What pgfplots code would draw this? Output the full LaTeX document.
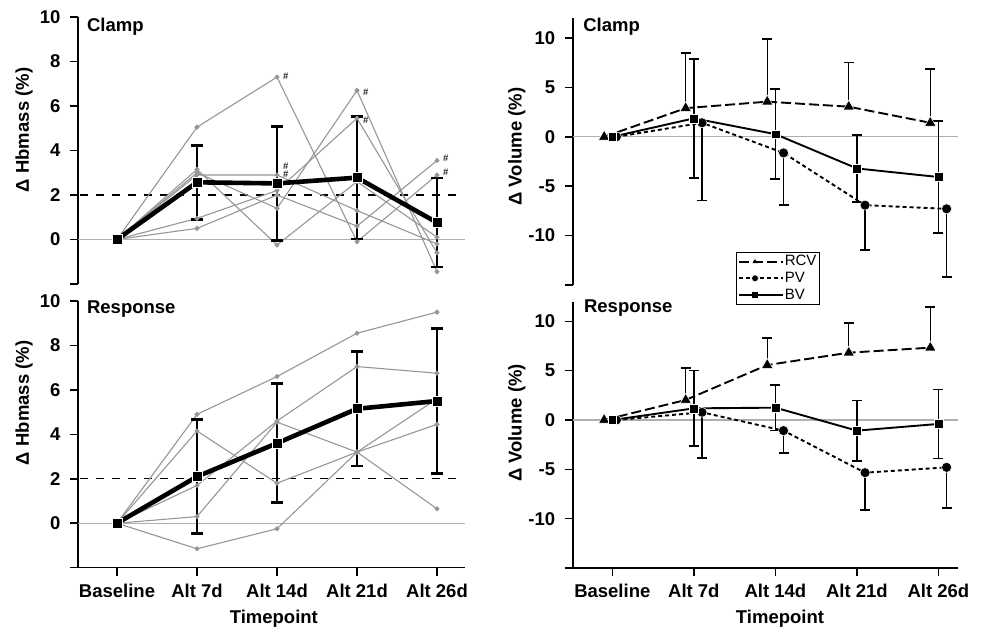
\documentclass[border=0pt]{standalone}
\usepackage{pgfplots}
\pgfplotsset{compat=1.18}
\usepackage{fontspec}
\setmainfont{Liberation Sans}
\definecolor{indiv}{RGB}{150,150,150}
\definecolor{zline}{RGB}{175,175,175}
\pgfplotsset{
  base/.style={
    scale only axis, clip=false,
    axis y line*=left,
    tick align=outside, major tick length=8pt,
    every tick/.style={black, line width=1.6pt},
    axis line style={line width=1.6pt, black},
    tick label style={font=\bfseries\fontsize{18.5}{20}\selectfont},
    label style={font=\bfseries\fontsize{18.5}{20}\selectfont},
    xtick={0,1,2,3,4},
    xticklabels={Baseline, Alt 7d, Alt 14d, Alt 21d, Alt 26d},
    x tick label style={yshift=-5pt},
    y tick label style={xshift=-6pt},
  },
  leftp/.style={base, width=387pt, xmin=-0.4875, xmax=4.35, ymin=-2, ymax=10,
    ytick={-2,0,2,4,6,8,10}, yticklabels={,0,2,4,6,8,10},
    ylabel={Δ Hbmass (\%)}},
  rightp/.style={base, width=385.3pt, xmin=-0.486, xmax=4.24, ymin=-15, ymax=12,
    ytick={-15,-10,-5,0,5,10}, yticklabels={,-10,-5,0,5,10},
    ylabel={Δ Volume (\%)}},
  ind/.style={indiv, line width=1.1pt, mark=*, mark size=1.9pt, mark options={fill=indiv, draw=indiv}, forget plot},
  meanln/.style={black, line width=4.6pt, mark=square*, mark size=5pt, mark options={fill=black, draw=white, line width=0.7pt}, forget plot},
  meaneb/.style={only marks, mark=none, forget plot,
    error bars/.cd, y dir=both, y explicit,
    error bar style={line width=2.2pt, black},
    error mark options={rotate=90, mark size=6pt, line width=2.8pt, black}},
  veb/.style={only marks, mark=none, forget plot,
    error bars/.cd, y dir=#1, y explicit,
    error bar style={line width=1.4pt, black, solid},
    error mark options={rotate=90, mark size=5pt, line width=1.7pt, black, solid}},
  rcv/.style={black, line width=1.9pt, dash pattern=on 10pt off 4pt, mark=triangle*, mark size=6.5pt, mark options={solid, fill=black, draw=white, line width=0.5pt}},
  pv/.style={black, line width=1.9pt, dash pattern=on 4pt off 3pt, mark=*, mark size=5pt, mark options={solid, fill=black, draw=white, line width=0.5pt}},
  bv/.style={black, line width=1.9pt, mark=square*, mark size=4.4pt, mark options={solid, fill=black, draw=white, line width=0.5pt}},
}
\begin{document}
\begin{tikzpicture}[x=1pt,y=1pt]
\useasboundingbox (0,0) rectangle (983,628);

% ---------- top left: Clamp Hbmass ----------
\begin{axis}[leftp, height=267pt, at={(78pt,344pt)}, anchor=south west,
  axis x line=none,
  ylabel style={at={(axis description cs:-0.1395,0.577)}, anchor=center}]
\addplot[zline, line width=1.2pt, forget plot] coordinates {(-0.4875,0) (4.35,0)};
\addplot[black, line width=1.3pt, dash pattern=on 8pt off 8pt, forget plot] coordinates {(-0.46,2) (4.25,2)};
\addplot[ind] coordinates {(0,0) (1,5.05) (2,7.3) (3,-0.1) (4,2.9)};
\addplot[ind] coordinates {(0,0) (1,3.0) (2,1.4) (3,6.7) (4,-1.45)};
\addplot[ind] coordinates {(0,0) (1,0.95) (2,2.2) (3,5.45) (4,-0.6)};
\addplot[ind] coordinates {(0,0) (1,3.15) (2,-0.25) (3,2.6) (4,0.1)};
\addplot[ind] coordinates {(0,0) (1,0.5) (2,2.0) (3,0.6) (4,3.55)};
\addplot[ind] coordinates {(0,0) (1,2.9) (2,2.9) (3,1.3) (4,-0.2)};
\addplot[meaneb] coordinates {(1,2.57) +- (0,1.66) (2,2.52) +- (0,2.55) (3,2.78) +- (0,2.76) (4,0.76) +- (0,2.0)};
\addplot[meanln] coordinates {(0,0) (1,2.57) (2,2.52) (3,2.78) (4,0.76)};
\begin{scope}[every node/.style={font=\bfseries\fontsize{9.5}{9.5}\selectfont, inner sep=0pt, text=black!85}]
\node at (axis cs:2.11,7.35) {\#};
\node at (axis cs:2.11,3.27) {\#};
\node at (axis cs:2.11,2.91) {\#};
\node at (axis cs:3.11,6.62) {\#};
\node at (axis cs:3.11,5.34) {\#};
\node at (axis cs:4.11,3.63) {\#};
\node at (axis cs:4.11,3.02) {\#};
\end{scope}
\node[anchor=west, font=\bfseries\fontsize{18.5}{20}\selectfont, inner sep=0pt] at (rel axis cs:0.023,0.963) {Clamp};
\end{axis}

% ---------- bottom left: Response Hbmass ----------
\begin{axis}[leftp, height=266.7pt, at={(78pt,60.3pt)}, anchor=south west,
  axis x line*=bottom, xlabel={Timepoint},
  xlabel style={at={(axis description cs:0.506,0)}, anchor=center, yshift=-51pt},
  ylabel style={at={(axis description cs:-0.1395,0.618)}, anchor=center}]
\addplot[zline, line width=1.2pt, forget plot] coordinates {(-0.4875,0) (4.35,0)};
\addplot[black, line width=1.3pt, dash pattern=on 8pt off 8pt, forget plot] coordinates {(-0.46,2) (4.25,2)};
\addplot[ind] coordinates {(0,0) (1,4.9) (2,6.6) (3,8.55) (4,9.5)};
\addplot[ind] coordinates {(0,0) (1,4.15) (2,1.8) (3,3.2) (4,4.45)};
\addplot[ind] coordinates {(0,0) (1,1.7) (2,4.6) (3,7.05) (4,6.75)};
\addplot[ind] coordinates {(0,0) (1,0.3) (2,4.55) (3,3.2) (4,0.65)};
\addplot[ind] coordinates {(0,0) (1,-1.15) (2,-0.25) (3,3.2) (4,5.6)};
\addplot[meaneb] coordinates {(1,2.1) +- (0,2.57) (2,3.6) +- (0,2.68) (3,5.15) +- (0,2.57) (4,5.5) +- (0,3.27)};
\addplot[meanln] coordinates {(0,0) (1,2.1) (2,3.6) (3,5.15) (4,5.5)};
\node[anchor=west, font=\bfseries\fontsize{18.5}{20}\selectfont, inner sep=0pt] at (rel axis cs:0.023,0.970) {Response};
\end{axis}

% ---------- top right: Clamp Volume ----------
\begin{axis}[rightp, height=266.7pt, at={(572.7pt,343pt)}, anchor=south west,
  axis x line=none,
  ylabel style={at={(axis description cs:-0.145,0.519)}, anchor=center},
  legend style={at={(0.423,0.1237)}, anchor=north west, draw=black, line width=0.8pt,
    font=\fontsize{15}{14}\selectfont, inner xsep=2pt, inner ysep=1pt, row sep=0pt,
    nodes={font=\fontsize{15}{14}\selectfont, inner sep=0.8pt, text height=11.6pt, text depth=3.4pt}},
  legend cell align=left,
  legend image code/.code={\draw[mark repeat=2,mark phase=2,#1] plot coordinates {(0pt,0pt) (16pt,0pt) (32pt,0pt)}; \path (0pt,0pt) -- (44pt,0pt);},
  legend image post style={mark size=3.4pt}]
\addplot[zline, line width=1.2pt, forget plot] coordinates {(-0.486,0) (4.24,0)};
\addplot[veb=plus] coordinates {(0.9,2.9) +- (0,5.58) (1.9,3.56) +- (0,6.34) (2.9,3.05) +- (0,4.48) (3.9,1.42) +- (0,5.47)};
\addplot[veb=minus] coordinates {(1.1,1.42) +- (0,7.86) (2.1,-1.63) +- (0,5.29) (3.1,-6.92) +- (0,4.54) (4.1,-7.29) +- (0,6.88)};
\addplot[veb=both] coordinates {(1,1.87) +- (0,6.03) (2,0.27) +- (0,4.55) (3,-3.2) +- (0,3.4) (4,-4.07) +- (0,5.7)};
\addplot[rcv] coordinates {(-0.1,0) (0.9,2.9) (1.9,3.56) (2.9,3.05) (3.9,1.42)};
\addlegendentry{RCV}
\addplot[pv] coordinates {(0.05,0) (1.1,1.42) (2.1,-1.63) (3.1,-6.92) (4.1,-7.29)};
\addlegendentry{PV}
\addplot[bv] coordinates {(0,0) (1,1.87) (2,0.27) (3,-3.2) (4,-4.07)};
\addlegendentry{BV}
\node[anchor=west, font=\bfseries\fontsize{18.5}{20}\selectfont, inner sep=0pt] at (rel axis cs:0.027,0.967) {Clamp};
\end{axis}

% ---------- bottom right: Response Volume ----------
\begin{axis}[rightp, height=266.4pt, at={(572.7pt,60pt)}, anchor=south west,
  axis x line*=bottom, xlabel={Timepoint},
  xlabel style={at={(axis description cs:0.538,0)}, anchor=center, yshift=-51pt},
  ylabel style={at={(axis description cs:-0.145,0.544)}, anchor=center}]
\addplot[zline, line width=1.2pt, forget plot] coordinates {(-0.486,0) (4.24,0)};
\addplot[veb=plus] coordinates {(0.9,2.03) +- (0,3.21) (1.9,5.57) +- (0,2.71) (2.9,6.82) +- (0,3.04) (3.9,7.33) +- (0,4.09)};
\addplot[veb=minus] coordinates {(1.1,0.78) +- (0,4.6) (2.1,-1.08) +- (0,2.3) (3.1,-5.34) +- (0,3.78) (4.1,-4.8) +- (0,4.15)};
\addplot[veb=both] coordinates {(1,1.18) +- (0,3.85) (2,1.25) +- (0,2.3) (3,-1.08) +- (0,3.05) (4,-0.4) +- (0,3.5)};
\addplot[rcv] coordinates {(-0.1,0) (0.9,2.03) (1.9,5.57) (2.9,6.82) (3.9,7.33)};
\addplot[pv] coordinates {(0.05,0) (1.1,0.78) (2.1,-1.08) (3.1,-5.34) (4.1,-4.8)};
\addplot[bv] coordinates {(0,0) (1,1.18) (2,1.25) (3,-1.08) (4,-0.4)};
\node[anchor=west, font=\bfseries\fontsize{18.5}{20}\selectfont, inner sep=0pt] at (rel axis cs:0.029,0.976) {Response};
\end{axis}
\end{tikzpicture}
\end{document}
